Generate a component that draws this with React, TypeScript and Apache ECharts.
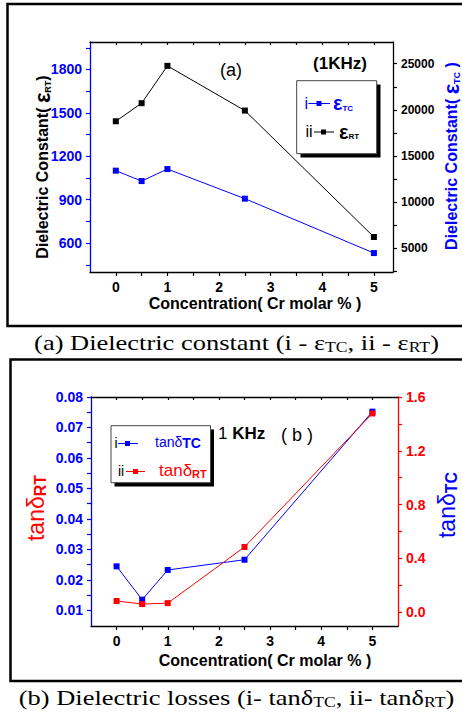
import React, { useEffect, useRef } from 'react';
import * as echarts from 'echarts';

// ---------- data ----------
const concentration = [0, 0.5, 1, 2.5, 5];
const epsRT = [1442, 1567, 1825, 1516, 642];
const epsTC = [13420, 12294, 13593, 10390, 4500];
const tanRT = [0.0131, 0.0121, 0.0124, 0.0308, 0.0746];
const tanTC = [0.34, 0.092, 0.313, 0.389, 1.491];

// ---------- tick labels ----------
const xLabels = [0, 1, 2, 3, 4, 5];
const xTicks = [0, 0.5, 1, 1.5, 2, 2.5, 3, 3.5, 4, 4.5, 5];
const epsRTLabels = [600, 900, 1200, 1500, 1800];
const epsRTTicks = [450, 600, 750, 900, 1050, 1200, 1350, 1500, 1650, 1800, 1950];
const epsTCLabels = [5000, 10000, 15000, 20000, 25000];
const epsTCTicks = [2500, 5000, 7500, 10000, 12500, 15000, 17500, 20000, 22500, 25000];
const tanRTLabels = [0.01, 0.02, 0.03, 0.04, 0.05, 0.06, 0.07, 0.08];
const tanRTTicks = [0.01, 0.015, 0.02, 0.025, 0.03, 0.035, 0.04, 0.045, 0.05, 0.055, 0.06, 0.065, 0.07, 0.075, 0.08];
const tanTCLabels = [0, 0.4, 0.8, 1.2, 1.6];
const tanTCTicks = [0, 0.2, 0.4, 0.6, 0.8, 1.0, 1.2, 1.4, 1.6];

const SANS = '"Liberation Sans", Arial, Helvetica, sans-serif';
const SERIF = '"Liberation Serif", "Times New Roman", serif';
const BLUE = '#0000ff';
const RED = '#ff0000';
const BLACK = '#000000';

const pairs = (xs: number[], ys: number[]) => xs.map((x, i) => [x, ys[i]]);

function xAx(gridIndex: number, min: number, max: number, top: boolean) {
  return {
    type: 'value',
    gridIndex,
    position: top ? 'top' : 'bottom',
    min,
    max,
    splitLine: { show: false },
    axisLine: { show: true, onZero: false, lineStyle: { color: BLACK, width: 1.3 } },
    axisTick: {
      show: true,
      inside: top,
      length: top ? 3 : 4,
      customValues: xTicks,
      lineStyle: { color: BLACK, width: 1.2 },
    },
    axisLabel: top
      ? { show: false }
      : {
          show: true,
          customValues: xLabels,
          color: BLACK,
          fontWeight: 'bold',
          fontSize: 14,
          fontFamily: SANS,
          margin: 8,
          formatter: (v: number) => String(v),
        },
  };
}

function yAx(
  gridIndex: number,
  position: string,
  min: number,
  max: number,
  labels: number[],
  ticks: number[],
  lineColor: string,
  labelColor: string,
  fontSize: number,
  fmt: (v: number) => string
) {
  return {
    type: 'value',
    gridIndex,
    position,
    min,
    max,
    splitLine: { show: false },
    axisLine: { show: true, onZero: false, lineStyle: { color: lineColor, width: 1.3 } },
    axisTick: {
      show: true,
      inside: false,
      length: 4,
      customValues: ticks,
      lineStyle: { color: lineColor, width: 1.2 },
    },
    axisLabel: {
      show: true,
      customValues: labels,
      color: labelColor,
      fontWeight: 'bold',
      fontSize,
      fontFamily: SANS,
      margin: 8,
      formatter: fmt,
    },
  };
}

function line(name: string, xi: number, yi: number, data: number[][], color: string) {
  return {
    type: 'line',
    name,
    xAxisIndex: xi,
    yAxisIndex: yi,
    data,
    symbol: 'rect',
    symbolSize: 6,
    showSymbol: true,
    lineStyle: { color, width: 1 },
    itemStyle: { color },
    emphasis: { disabled: true },
  };
}

function txt(x: number, y: number, text: string, rich: any, extra: any = {}) {
  return {
    type: 'text',
    x,
    y,
    rotation: extra.rotation || 0,
    scaleX: extra.scaleX || 1,
    z: 100,
    style: {
      text,
      rich,
      align: extra.align || 'left',
      verticalAlign: 'middle',
      fontFamily: SANS,
    },
  };
}

const tok = (fill: string, fontSize: number, bold: boolean, fam = SANS, extra: any = {}) => ({
  fill,
  fontSize,
  fontFamily: fam,
  fontWeight: bold ? 'bold' : 'normal',
  ...extra,
});

const graphics: any[] = [
  // outer boxes
  { type: 'rect', shape: { x: 7.5, y: 4, width: 470, height: 322 }, style: { fill: 'none', stroke: BLACK, lineWidth: 2.5 } },
  { type: 'rect', shape: { x: 10.5, y: 359.5, width: 470, height: 321.5 }, style: { fill: 'none', stroke: BLACK, lineWidth: 2.5 } },

  // captions
  txt(236.5, 343, '{n|(a) Dielectric constant (i - ε}{s|TC}{n|, ii - ε}{s|RT}{n|)}', {
    n: tok(BLACK, 21, false, SERIF, { lineHeight: 22 }),
    s: tok(BLACK, 14, false, SERIF, { lineHeight: 8, verticalAlign: 'bottom' }),
  }, { align: 'center', scaleX: 1.26 }),
  txt(236.5, 698, '{n|(b) Dielectric losses (i- tanδ}{s|TC}{n|, ii- tanδ}{s|RT}{n|)}', {
    n: tok(BLACK, 21, false, SERIF, { lineHeight: 22 }),
    s: tok(BLACK, 14, false, SERIF, { lineHeight: 8, verticalAlign: 'bottom' }),
  }, { align: 'center', scaleX: 1.26 }),

  // axis titles - chart (a)
  txt(42, 167, '{a|Dielectric Constant( }{e|ε}{s|RT}{a|)}', {
    a: tok(BLACK, 16, true, SANS, { lineHeight: 20 }),
    e: tok(BLACK, 22, true, SANS, { lineHeight: 20 }),
    s: tok(BLACK, 9, true, SANS, { lineHeight: 6, verticalAlign: 'bottom' }),
  }, { align: 'center', rotation: Math.PI / 2 }),
  txt(451, 156, '{a|Dielectric Constant( }{e|ε}{s|TC}{a| )}', {
    a: tok(BLUE, 16, true, SANS, { lineHeight: 20 }),
    e: tok(BLUE, 22, true, SANS, { lineHeight: 20 }),
    s: tok(BLUE, 9, true, SANS, { lineHeight: 6, verticalAlign: 'bottom' }),
  }, { align: 'center', rotation: Math.PI / 2 }),
  txt(255, 303, '{a|Concentration( Cr molar % )}', { a: tok(BLACK, 16, true) }, { align: 'center' }),
  txt(231, 70, '{a|(a)}', { a: tok(BLACK, 18, false) }, { align: 'center' }),
  txt(340, 63, '{a|(1KHz)}', { a: tok(BLACK, 17, true) }, { align: 'center' }),

  // legend (a)
  { type: 'rect', shape: { x: 300.5, y: 84.5, width: 80, height: 73 }, style: { fill: BLACK } },
  { type: 'rect', shape: { x: 296.7, y: 80.7, width: 80, height: 73 }, style: { fill: '#fff', stroke: '#444', lineWidth: 1 } },
  txt(304.5, 103, '{a|i}', { a: tok(BLUE, 16, false) }),
  { type: 'line', shape: { x1: 308.5, y1: 103.5, x2: 330, y2: 103.5 }, style: { stroke: BLUE, lineWidth: 1 } },
  { type: 'rect', shape: { x: 316.5, y: 101, width: 5, height: 5 }, style: { fill: BLUE } },
  txt(333, 103, '{e|ε}{s|TC}', {
    e: tok(BLUE, 20, true, SANS, { lineHeight: 18 }),
    s: tok(BLUE, 8, true, SANS, { lineHeight: 6, verticalAlign: 'bottom' }),
  }),
  txt(305.5, 131.5, '{a|ii}', { a: tok(BLACK, 16, false) }),
  { type: 'line', shape: { x1: 314, y1: 132, x2: 334, y2: 132 }, style: { stroke: BLACK, lineWidth: 1 } },
  { type: 'rect', shape: { x: 321, y: 129.5, width: 5, height: 5 }, style: { fill: BLACK } },
  txt(339, 131.5, '{e|ε}{s|RT}', {
    e: tok(BLACK, 20, true, SANS, { lineHeight: 18 }),
    s: tok(BLACK, 8, true, SANS, { lineHeight: 6, verticalAlign: 'bottom' }),
  }),

  // axis titles - chart (b)
  txt(36, 508, '{a|tanδ}{s|RT}', {
    a: tok(RED, 23, false, SANS, { lineHeight: 24 }),
    s: tok(RED, 16, true, SANS, { lineHeight: 10, verticalAlign: 'bottom' }),
  }, { align: 'center', rotation: Math.PI / 2 }),
  txt(447, 505, '{a|tanδ}{s|TC}', {
    a: tok(BLUE, 23, false, SANS, { lineHeight: 24 }),
    s: tok(BLUE, 16, true, SANS, { lineHeight: 10, verticalAlign: 'bottom' }),
  }, { align: 'center', rotation: Math.PI / 2 }),
  txt(265, 660, '{a|Concentration( Cr molar % )}', { a: tok(BLACK, 16, true) }, { align: 'center' }),
  txt(218, 433, '{r|1 }{b|KHz}', { r: tok(BLACK, 17, false), b: tok(BLACK, 17, true) }),
  txt(281, 435, '{a|( b )}', { a: tok(BLACK, 18, false) }),

  // legend (b)
  { type: 'rect', shape: { x: 114.5, y: 429.5, width: 99.5, height: 57 }, style: { fill: BLACK } },
  { type: 'rect', shape: { x: 111, y: 425.7, width: 99.5, height: 57 }, style: { fill: '#fff', stroke: '#444', lineWidth: 1 } },
  txt(114.5, 443, '{a|i}', { a: tok(BLACK, 14, false) }),
  { type: 'line', shape: { x1: 118, y1: 443.5, x2: 138, y2: 443.5 }, style: { stroke: BLUE, lineWidth: 1 } },
  { type: 'rect', shape: { x: 125, y: 441, width: 5, height: 5 }, style: { fill: BLUE } },
  txt(155, 442, '{a|tanδ}{s|TC}', {
    a: tok(BLUE, 14, false, SANS, { lineHeight: 16 }),
    s: tok(BLUE, 14, true, SANS, { lineHeight: 13, verticalAlign: 'bottom' }),
  }),
  txt(118, 471, '{a|ii}', { a: tok(BLACK, 14, false) }),
  { type: 'line', shape: { x1: 126, y1: 471.5, x2: 145, y2: 471.5 }, style: { stroke: RED, lineWidth: 1 } },
  { type: 'rect', shape: { x: 133, y: 469, width: 5, height: 5 }, style: { fill: RED } },
  txt(159, 470, '{a|tanδ}{s|RT}', {
    a: tok(RED, 17, false, SANS, { lineHeight: 18 }),
    s: tok(RED, 11, true, SANS, { lineHeight: 8, verticalAlign: 'bottom' }),
  }),
];

const option: any = {
  animation: false,
  backgroundColor: '#ffffff',
  grid: [
    { left: 90, top: 42, width: 303, height: 230, containLabel: false },
    { left: 91, top: 397, width: 307, height: 229, containLabel: false },
  ],
  xAxis: [xAx(0, -0.5, 5.37, false), xAx(0, -0.5, 5.37, true), xAx(1, -0.5, 5.5, false), xAx(1, -0.5, 5.5, true)],
  yAxis: [
    yAx(0, 'left', 400, 1990, epsRTLabels, epsRTTicks, BLUE, BLUE, 14, (v) => String(v)),
    yAx(0, 'right', 2450, 27350, epsTCLabels, epsTCTicks, BLACK, BLACK, 12, (v) => String(v)),
    yAx(1, 'left', 0.0049, 0.08, tanRTLabels, tanRTTicks, BLUE, BLUE, 14, (v) => v.toFixed(2)),
    yAx(1, 'right', -0.104, 1.6, tanTCLabels, tanTCTicks, RED, RED, 14, (v) => v.toFixed(1)),
  ],
  series: [
    line('εTC', 0, 1, pairs(concentration, epsTC), BLUE),
    line('εRT', 0, 0, pairs(concentration, epsRT), BLACK),
    line('tanδTC', 2, 3, pairs(concentration, tanTC), BLUE),
    line('tanδRT', 2, 2, pairs(concentration, tanRT), RED),
  ],
  graphic: { elements: graphics },
};

export default function App() {
  const ref = useRef<HTMLDivElement>(null);
  useEffect(() => {
    if (!ref.current) return;
    const chart = echarts.init(ref.current, null, { renderer: 'svg' });
    chart.setOption(option);
    return () => chart.dispose();
  }, []);
  return (
    <div
      ref={ref}
      style={{ position: 'absolute', left: 0, top: 0, width: 462, height: 718, background: '#fff' }}
    />
  );
}
